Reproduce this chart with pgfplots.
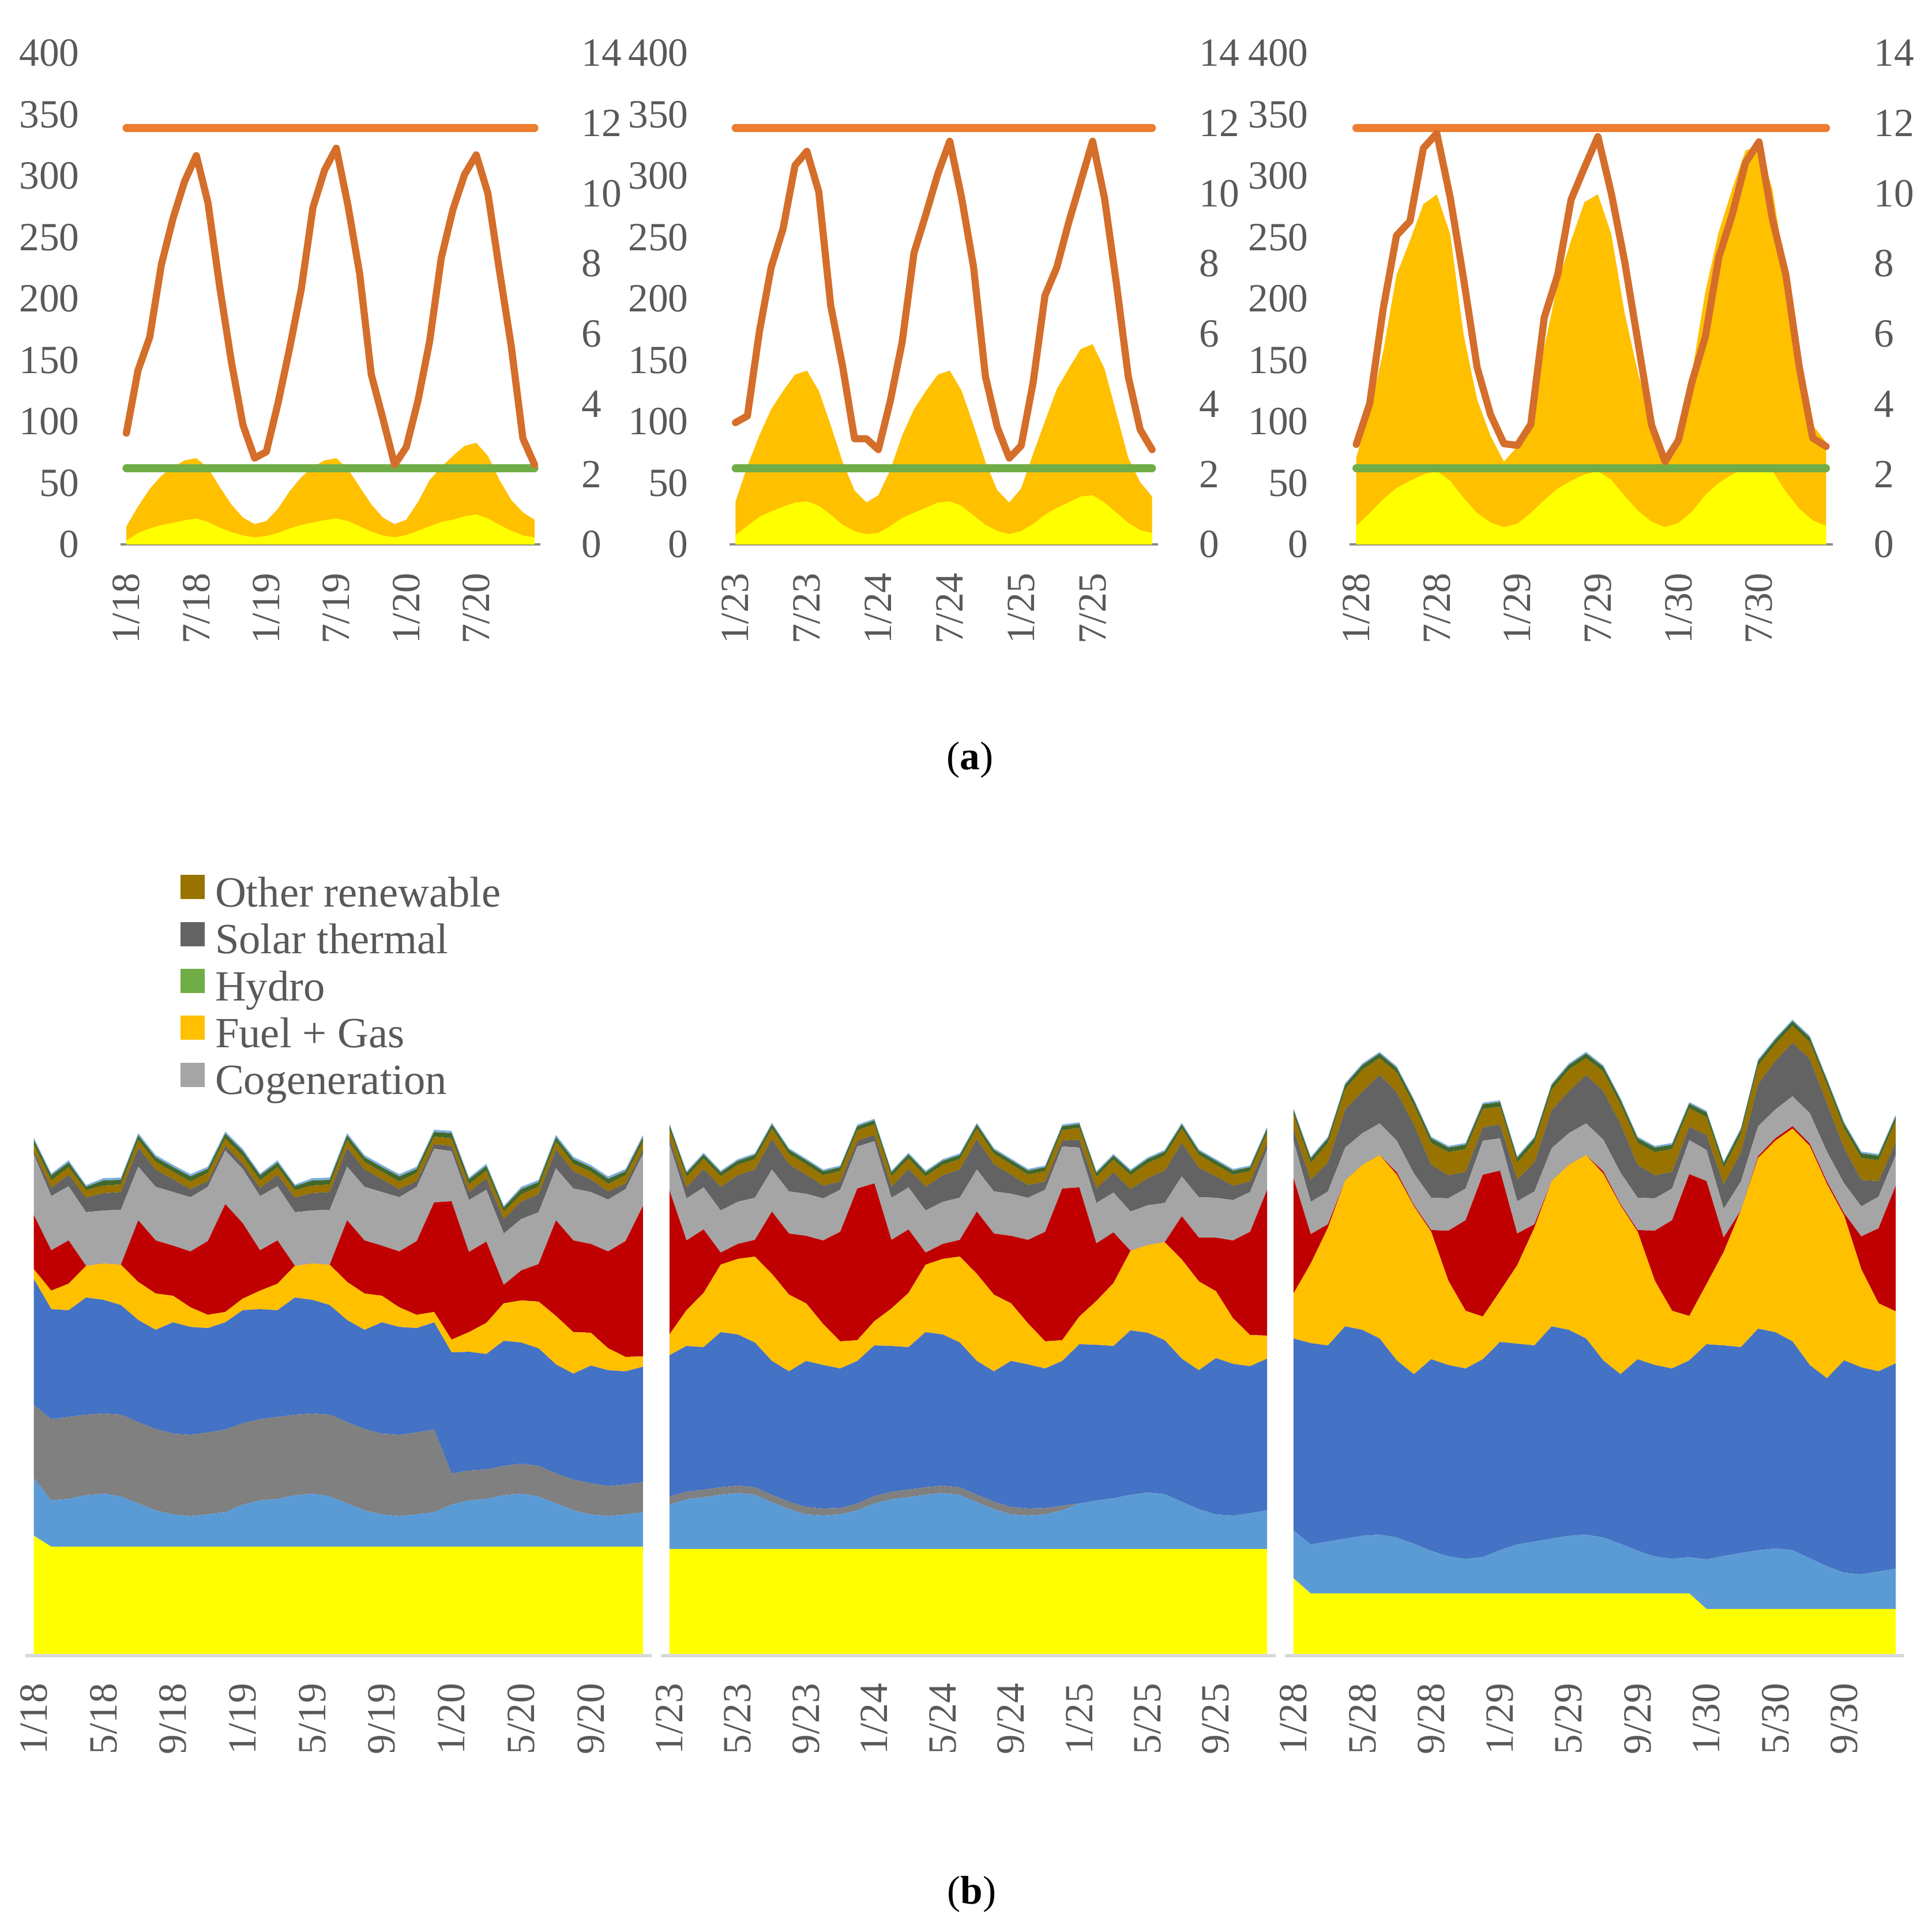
\documentclass[border=0pt]{standalone}
\usepackage{fontspec}
\setmainfont{Liberation Serif}
\usepackage{pgfplots}
\pgfplotsset{compat=1.18}
\usepackage{pgfplotstable}

\definecolor{yellowc}{HTML}{FFFF00}
\definecolor{lbc}{HTML}{5B9BD5}
\definecolor{grayc}{HTML}{808080}
\definecolor{bluec}{HTML}{4472C4}
\definecolor{goldc}{HTML}{FFC000}
\definecolor{redc}{HTML}{C00000}
\definecolor{lgc}{HTML}{A5A5A5}
\definecolor{dgc}{HTML}{636363}
\definecolor{brownc}{HTML}{997300}
\definecolor{dgreenc}{HTML}{43682B}
\definecolor{toplbc}{HTML}{7CAFDD}
\definecolor{hydroc}{HTML}{70AD47}
\definecolor{flatc}{HTML}{ED7D31}
\definecolor{lnc}{HTML}{D46E2A}
\definecolor{textgray}{HTML}{595959}
\definecolor{axgray}{HTML}{898989}
\definecolor{botline}{HTML}{D9D9D9}

% ---------- top panels: i, yellow area, gold area (total), line (right axis)
\pgfplotstableread{
i yel gold ln
0 2.9 14.7 3.17
1 9.3 30.8 4.96
2 12.9 45.1 5.90
3 15.8 55.9 7.97
4 17.5 63.0 9.29
5 19.7 68.4 10.35
6 21.1 70.2 11.08
7 18.3 62.3 9.73
8 13.6 46.9 7.35
9 10.0 32.6 5.21
10 7.2 21.8 3.40
11 5.7 16.5 2.46
12 6.8 19.0 2.64
13 9.3 29.0 4.02
14 12.9 43.3 5.59
15 15.8 54.8 7.28
16 17.9 63.0 9.60
17 19.7 68.4 10.67
18 21.1 70.2 11.29
19 19.0 61.2 9.66
20 14.7 46.9 7.72
21 10.4 32.6 4.84
22 7.2 21.8 3.58
23 5.7 16.5 2.27
24 7.5 20.1 2.77
25 11.1 34.4 4.09
26 14.7 52.3 5.78
27 18.3 63.0 8.16
28 20.1 72.0 9.54
29 22.9 80.2 10.54
30 24.4 82.7 11.10
31 21.1 72.0 10.00
32 15.8 52.3 7.78
33 11.1 36.2 5.65
34 7.2 26.1 3.02
35 5.7 20.1 2.27
}\tabAa

\pgfplotstableread{
i yel gold ln
0 7.6 34.7 3.47
1 14.9 63.8 3.66
2 22.5 88.6 6.05
3 26.8 110.1 7.90
4 30.7 125.0 9.00
5 34.1 138.2 10.80
6 35.0 141.5 11.20
7 31.4 125.0 10.04
8 24.1 96.9 6.80
9 15.9 67.1 5.07
10 10.9 44.0 3.01
11 8.3 34.1 3.01
12 9.3 40.0 2.70
13 14.9 60.5 4.08
14 21.5 88.6 5.76
15 25.8 110.1 8.31
16 29.8 125.0 9.41
17 34.1 138.2 10.56
18 35.0 141.5 11.49
19 31.4 125.0 9.87
20 23.5 96.9 7.90
21 15.9 67.1 4.78
22 10.9 44.0 3.33
23 8.3 34.1 2.46
24 10.9 45.6 2.81
25 16.5 73.7 4.60
26 24.1 100.2 7.09
27 29.8 126.6 7.90
28 34.1 143.1 9.18
29 39.0 159.0 10.33
30 40.0 163.0 11.49
31 34.1 143.1 9.87
32 25.8 106.8 7.44
33 17.5 70.4 4.78
34 11.6 50.6 3.27
35 9.3 39.0 2.70
}\tabAb

\pgfplotstableread{
i yel gold ln
0 15.0 70.9 2.85
1 25.5 107.6 4.01
2 36.7 156.5 6.70
3 45.8 219.4 8.80
4 51.7 247.3 9.21
5 56.9 277.0 11.29
6 59.7 285.0 11.71
7 51.7 252.5 9.88
8 37.7 170.5 7.56
9 25.5 118.1 5.05
10 17.8 88.4 3.70
11 14.0 67.4 2.87
12 16.8 79.6 2.82
13 25.5 100.6 3.42
14 36.0 160.0 6.46
15 45.4 212.4 7.68
16 51.7 247.3 9.82
17 56.9 278.7 10.74
18 59.7 285.0 11.62
19 52.4 252.5 10.00
20 39.5 187.9 8.05
21 27.2 139.0 5.72
22 18.5 100.6 3.40
23 14.0 67.4 2.36
24 17.5 83.1 2.97
25 26.5 139.0 4.62
26 40.2 205.4 5.91
27 49.9 254.3 8.17
28 56.9 289.2 9.39
29 62.2 320.7 10.88
30 63.9 324.2 11.47
31 59.7 289.2 9.27
32 43.0 219.4 7.68
33 29.0 146.0 5.05
34 19.6 97.1 3.03
35 15.0 83.1 2.79
}\tabAc

% ---------- bottom panels: stacked layers
\pgfplotstableread{
i Y LB G B O R LG DG BR GR T
0 208 100 127 218 17 94 105 5 12 8 4
1 189 80 141 191 32 70 94 14 13 9 3
2 189 83 142 185 46 75 94 20 13 8 4
3 189 89 140 203 55 0 93 25 13 6 3
4 189 92 139 197 63 0 92 30 13 9 4
5 189 87 142 190 70 0 95 31 13 8 4
6 189 75 141 177 66 107 93 33 13 8 4
7 189 63 141 172 63 92 93 30 13 8 4
8 189 56 140 193 46 87 93 22 13 8 4
9 189 53 141 187 34 97 94 14 13 9 4
10 189 56 142 181 23 128 94 10 14 7 4
11 189 60 143 186 18 187 93 8 13 8 4
12 189 73 141 196 20 131 94 9 13 9 4
13 189 80 141 191 32 70 94 14 13 9 3
14 189 83 142 185 46 75 94 20 13 8 4
15 189 89 140 203 55 0 93 25 13 7 3
16 189 92 139 197 63 0 92 30 13 9 4
17 189 87 142 190 70 0 95 31 13 8 4
18 189 75 141 177 66 107 93 33 13 8 4
19 189 63 141 172 63 92 93 30 13 8 4
20 189 56 140 193 46 87 93 22 13 8 4
21 189 53 141 187 34 97 94 14 13 9 4
22 189 56 142 181 23 128 94 10 14 7 4
23 189 60 143 186 18 190 93 8 13 8 4
24 189 73 54 210 22 240 87 9 13 9 4
25 189 80 52 206 34 139 90 14 13 9 3
26 189 83 51 200 54 141 90 20 13 8 4
27 189 89 51 217 65 32 89 25 13 7 3
28 189 92 52 210 73 52 89 30 13 9 4
29 189 87 53 204 81 65 90 31 13 8 4
30 189 75 52 189 84 166 90 33 13 8 4
31 189 63 53 184 72 159 90 30 13 8 4
32 189 56 54 204 57 154 90 22 13 8 4
33 189 53 52 201 38 168 90 14 13 9 4
34 189 56 52 196 25 201 90 10 14 7 4
35 189 60 52 200 18 261 90 8 13 8 4
}\tabBa

\pgfplotstableread{
i Y LB G B O R LG DG BR GR T
0 185 77 14 245 36 250 80 8 18 7 3
1 185 86 13 253 62 121 73 19 18 7 3
2 185 90 13 247 94 110 73 32 18 7 3
3 185 94 13 269 117 21 73 41 18 7 3
4 185 97 13 262 131 26 73 46 18 7 3
5 185 94 13 251 149 29 73 49 18 7 3
6 185 81 13 232 151 108 73 53 18 7 3
7 185 69 13 226 133 106 73 47 18 7 3
8 185 60 13 253 100 117 73 33 18 7 3
9 185 58 12 249 71 145 73 22 18 7 3
10 185 60 11 242 47 190 73 14 18 7 3
11 185 67 12 247 36 263 73 10 18 7 3
12 185 79 13 261 42 239 73 11 18 7 3
13 185 86 13 253 65 119 73 19 18 7 3
14 185 90 13 247 94 110 73 32 18 7 3
15 185 94 13 269 117 21 73 41 18 7 3
16 185 97 13 262 131 26 73 46 18 7 3
17 185 94 13 251 149 29 73 49 18 7 3
18 185 81 13 232 151 108 73 53 18 7 3
19 185 69 13 226 133 106 73 47 18 7 3
20 185 60 13 253 100 117 73 33 18 7 3
21 185 58 12 250 71 145 73 22 18 7 3
22 185 60 11 242 47 190 73 14 18 7 3
23 185 67 8 251 36 263 73 10 18 7 3
24 185 79 0 276 48 224 69 14 20 7 3
25 185 84 0 270 76 100 70 25 20 7 3
26 185 88 0 264 109 88 69 35 22 7 3
27 185 94 0 285 138 0 68 39 24 7 3
28 185 98 0 277 152 0 69 47 26 7 3
29 185 95 0 267 170 0 68 56 26 7 3
30 185 82 0 248 172 75 69 58 25 7 3
31 185 69 0 241 154 76 70 51 22 7 3
32 185 60 0 271 116 93 69 37 20 7 3
33 185 58 0 263 79 135 70 25 19 7 3
34 185 62 0 255 54 179 69 18 18 7 3
35 185 67 0 263 40 253 70 11 18 7 3
}\tabBb

\pgfplotstableread{
i Y LB G B O R LG DG BR GR T
0 134 83 0 333 78 200 65 20 25 8 3
1 108 85 0 349 138 51 56 38 29 8 3
2 108 90 0 340 204 6 57 50 34 8 3
3 108 95 0 368 253 0 57 66 35 8 3
4 108 100 0 357 286 0 55 72 38 8 3
5 108 102 0 340 318 0 55 84 29 8 3
6 108 97 0 307 322 4 55 84 34 8 3
7 108 86 0 294 291 2 55 84 34 8 3
8 108 74 0 332 221 3 56 57 38 8 3
9 108 64 0 332 146 87 56 40 40 8 3
10 108 60 0 330 100 157 55 29 39 8 3
11 108 63 0 343 74 246 59 23 32 8 3
12 108 75 0 361 88 209 56 24 31 8 3
13 108 85 0 348 136 55 56 38 29 8 3
14 108 90 0 340 204 6 57 50 34 8 3
15 108 95 0 368 252 0 57 66 35 8 3
16 108 100 0 357 286 0 55 72 38 8 3
17 108 102 0 340 318 0 55 84 29 8 3
18 108 97 0 307 324 4 55 84 34 8 3
19 108 86 0 294 293 2 55 84 34 8 3
20 108 74 0 332 221 3 56 57 38 8 3
21 108 64 0 332 146 87 56 40 40 8 3
22 108 60 0 330 100 157 55 29 39 8 3
23 108 63 0 341 77 246 59 23 32 8 3
24 81 86 0 373 104 179 54 26 31 8 3
25 81 92 0 365 162 25 50 42 29 8 3
26 81 97 0 357 237 0 50 50 32 8 3
27 81 102 0 384 296 3 52 73 32 8 3
28 81 105 0 375 332 4 50 84 29 8 3
29 81 102 0 362 369 4 52 93 29 8 3
30 81 88 0 335 380 4 53 94 29 8 3
31 81 74 0 326 337 4 52 84 32 8 3
32 81 63 0 368 251 4 52 61 34 8 3
33 81 60 0 359 170 57 52 46 38 8 3
34 81 65 0 347 118 130 55 27 36 8 3
35 81 70 0 356 90 218 53 23 36 8 3
}\tabBc

\pgfplotsset{
  topbase/.style={scale only axis, height=127.8pt, xmin=-0.5, xmax=35.5, ymin=0,
    major tick length=0pt,
    tick label style={font=\fontsize{10.4}{12}\selectfont, text=textgray},
    /pgf/number format/assume math mode=true},
  topleft/.style={topbase, ymax=400, ytick={0,50,...,400}, xtick={0,6,12,18,24,30},
    axis x line*=bottom, axis y line*=left,
    y axis line style={draw=none}, x axis line style={draw=axgray, line width=0.6pt},
    yticklabel style={xshift=-7.2pt},
    xticklabel style={yshift=-3.9pt, rotate=90, anchor=east}},
  topright/.style={topbase, ymax=14, ytick={0,2,...,14}, xtick=\empty,
    axis y line*=right, axis x line=none, y axis line style={draw=none},
    yticklabel style={xshift=7.2pt}},
  botbase/.style={scale only axis, height=210pt, xmin=-0.5, xmax=35.5, ymin=0, ymax=1400,
    stack plots=y, area style,
    axis x line*=bottom, axis y line=none, ytick=\empty,
    x axis line style={draw=botline, line width=0.9pt},
    xtick={0,4,...,32}, major tick length=0pt,
    xticklabel style={yshift=-3.7pt, rotate=90, anchor=east,
      font=\fontsize{10.4}{12}\selectfont, text=textgray}},
  gold area/.style={fill=goldc, draw=none},
  yel area/.style={fill=yellowc, draw=none},
  hydro line/.style={draw=hydroc, line width=2.0pt, line cap=round},
  flat line/.style={draw=flatc, line width=2.0pt, line cap=round},
  main line/.style={draw=lnc, line width=1.85pt, line join=round, line cap=round},
}

\newcommand{\stacklayers}[1]{%
  \addplot[fill=yellowc, draw=none] table[x=i,y=Y]{#1} \closedcycle;
  \addplot[fill=lbc, draw=none] table[x=i,y=LB]{#1} \closedcycle;
  \addplot[fill=grayc, draw=none] table[x=i,y=G]{#1} \closedcycle;
  \addplot[fill=bluec, draw=none] table[x=i,y=B]{#1} \closedcycle;
  \addplot[fill=goldc, draw=none] table[x=i,y=O]{#1} \closedcycle;
  \addplot[fill=redc, draw=none] table[x=i,y=R]{#1} \closedcycle;
  \addplot[fill=lgc, draw=none] table[x=i,y=LG]{#1} \closedcycle;
  \addplot[fill=dgc, draw=none] table[x=i,y=DG]{#1} \closedcycle;
  \addplot[fill=brownc, draw=none] table[x=i,y=BR]{#1} \closedcycle;
  \addplot[fill=dgreenc, draw=none] table[x=i,y=GR]{#1} \closedcycle;
  \addplot[fill=toplbc, draw=none] table[x=i,y=T]{#1} \closedcycle;
}

\begin{document}
\begin{tikzpicture}
\useasboundingbox (0pt,0pt) rectangle (502.5pt,501.6pt);

% ================= top row =================
\begin{axis}[topleft, at={(31.35pt,360pt)}, anchor=south west, width=109.2pt,
  xticklabels={1/18,7/18,1/19,7/19,1/20,7/20}]
  \addplot[gold area] table[x=i,y=gold]{\tabAa} \closedcycle;
  \addplot[yel area] table[x=i,y=yel]{\tabAa} \closedcycle;
  \addplot[hydro line] coordinates {(0,62) (35,62)};
  \addplot[flat line] coordinates {(0,339) (35,339)};
\end{axis}
\begin{axis}[topright, at={(31.35pt,360pt)}, anchor=south west, width=109.2pt]
  \addplot[main line] table[x=i,y=ln]{\tabAa};
\end{axis}

\begin{axis}[topleft, at={(189.75pt,360pt)}, anchor=south west, width=111.45pt,
  xticklabels={1/23,7/23,1/24,7/24,1/25,7/25}]
  \addplot[gold area] table[x=i,y=gold]{\tabAb} \closedcycle;
  \addplot[yel area] table[x=i,y=yel]{\tabAb} \closedcycle;
  \addplot[hydro line] coordinates {(0,62) (35,62)};
  \addplot[flat line] coordinates {(0,339) (35,339)};
\end{axis}
\begin{axis}[topright, at={(189.75pt,360pt)}, anchor=south west, width=111.45pt]
  \addplot[main line] table[x=i,y=ln]{\tabAb};
\end{axis}

\begin{axis}[topleft, at={(351pt,360pt)}, anchor=south west, width=125.7pt,
  xticklabels={1/28,7/28,1/29,7/29,1/30,7/30}]
  \addplot[gold area] table[x=i,y=gold]{\tabAc} \closedcycle;
  \addplot[yel area] table[x=i,y=yel]{\tabAc} \closedcycle;
  \addplot[hydro line] coordinates {(0,62) (35,62)};
  \addplot[flat line] coordinates {(0,339) (35,339)};
\end{axis}
\begin{axis}[topright, at={(351pt,360pt)}, anchor=south west, width=125.7pt]
  \addplot[main line] table[x=i,y=ln]{\tabAc};
\end{axis}

\node[font=\fontsize{10.4}{12}\selectfont] at (252.3pt,303.9pt) {(\textbf{a})};

% ================= bottom row =================
\begin{axis}[botbase, at={(6.54pt,70.95pt)}, anchor=south west, width=162.96pt,
  xticklabels={1/18,5/18,9/18,1/19,5/19,9/19,1/20,5/20,9/20},
  legend cell align=left,
  legend image code/.code={\fill[#1] (0pt,0pt) rectangle (6.3pt,6.3pt);},
  legend style={at={(0.248,0.967)}, anchor=north west, draw=none, fill=none,
    inner sep=0pt, outer sep=0pt,
    font=\fontsize{11.2}{12}\selectfont, text=textgray,
    nodes={inner sep=0pt, text height=7.9pt, text depth=3.9pt},
    /tikz/every odd column/.append style={column sep=2.7pt}}]
  \addlegendimage{fill=brownc, draw=none}
  \addlegendentry{Other renewable}
  \addlegendimage{fill=dgc, draw=none}
  \addlegendentry{Solar thermal}
  \addlegendimage{fill=hydroc, draw=none}
  \addlegendentry{Hydro}
  \addlegendimage{fill=goldc, draw=none}
  \addlegendentry{Fuel + Gas}
  \addlegendimage{fill=lgc, draw=none}
  \addlegendentry{Cogeneration}
  \stacklayers{\tabBa}
\end{axis}

\begin{axis}[botbase, at={(171.9pt,70.95pt)}, anchor=south west, width=159.9pt,
  xticklabels={1/23,5/23,9/23,1/24,5/24,9/24,1/25,5/25,9/25}]
  \stacklayers{\tabBb}
\end{axis}

\begin{axis}[botbase, at={(334.2pt,70.95pt)}, anchor=south west, width=161.1pt,
  xticklabels={1/28,5/28,9/28,1/29,5/29,9/29,1/30,5/30,9/30}]
  \stacklayers{\tabBc}
\end{axis}

\node[font=\fontsize{10.4}{12}\selectfont] at (252.75pt,8.85pt) {(\textbf{b})};
\end{tikzpicture}
\end{document}
